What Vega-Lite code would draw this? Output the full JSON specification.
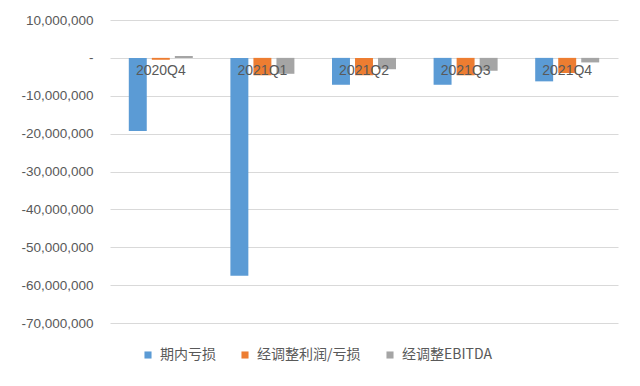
{
  "$schema": "https://vega.github.io/schema/vega-lite/v6.json",
  "autosize": {"type": "none"},
  "padding": {"left": 110, "top": 20, "right": 22, "bottom": 63},
  "width": 508,
  "height": 303,
  "background": "white",
  "config": {
    "view": {"stroke": null},
    "font": "Noto Sans CJK SC",
    "axis": {"labelColor": "#595959", "labelFont": "Liberation Sans"}
  },
  "data": {
    "values": [
      {"quarter": "2020Q4", "series": "期内亏损", "value": -19300000},
      {"quarter": "2020Q4", "series": "经调整利润/亏损", "value": -500000},
      {"quarter": "2020Q4", "series": "经调整EBITDA", "value": 500000},
      {"quarter": "2021Q1", "series": "期内亏损", "value": -57500000},
      {"quarter": "2021Q1", "series": "经调整利润/亏损", "value": -4600000},
      {"quarter": "2021Q1", "series": "经调整EBITDA", "value": -4200000},
      {"quarter": "2021Q2", "series": "期内亏损", "value": -7100000},
      {"quarter": "2021Q2", "series": "经调整利润/亏损", "value": -4600000},
      {"quarter": "2021Q2", "series": "经调整EBITDA", "value": -3000000},
      {"quarter": "2021Q3", "series": "期内亏损", "value": -7100000},
      {"quarter": "2021Q3", "series": "经调整利润/亏损", "value": -4600000},
      {"quarter": "2021Q3", "series": "经调整EBITDA", "value": -3400000},
      {"quarter": "2021Q4", "series": "期内亏损", "value": -6200000},
      {"quarter": "2021Q4", "series": "经调整利润/亏损", "value": -4000000},
      {"quarter": "2021Q4", "series": "经调整EBITDA", "value": -1200000}
    ]
  },
  "mark": {"type": "bar"},
  "encoding": {
    "x": {
      "field": "quarter",
      "type": "nominal",
      "sort": null,
      "scale": {"paddingInner": 0.37, "paddingOuter": 0.185},
      "axis": {
        "title": null,
        "orient": "bottom",
        "offset": -265,
        "domain": false,
        "ticks": false,
        "zindex": 1,
        "labelAngle": 0,
        "labelPadding": 5,
        "labelFontSize": 14,
        "labelColor": "#595959"
      }
    },
    "xOffset": {
      "field": "series",
      "type": "nominal",
      "sort": ["期内亏损", "经调整利润/亏损", "经调整EBITDA"],
      "scale": {"paddingInner": 0.22}
    },
    "y": {
      "field": "value",
      "type": "quantitative",
      "scale": {"domain": [-70000000, 10000000], "nice": false},
      "axis": {
        "title": null,
        "values": [10000000, 0, -10000000, -20000000, -30000000, -40000000, -50000000, -60000000, -70000000],
        "labelExpr": "datum.value === 0 ? '-' : replace(format(datum.value, ','), '−', '-')",
        "domain": false,
        "ticks": false,
        "labelPadding": 17,
        "labelFontSize": 13.5,
        "gridColor": "#d9d9d9",
        "gridWidth": 1
      }
    },
    "color": {
      "field": "series",
      "type": "nominal",
      "sort": ["期内亏损", "经调整利润/亏损", "经调整EBITDA"],
      "scale": {"range": ["#5b9bd5", "#ed7d31", "#a5a5a5"]},
      "legend": {
        "title": null,
        "orient": "none",
        "direction": "horizontal",
        "legendX": 31,
        "legendY": 328,
        "symbolType": "square",
        "symbolSize": 50,
        "symbolStrokeWidth": 0,
        "labelFontSize": 14,
        "labelColor": "#595959",
        "columnPadding": 22,
        "labelOffset": 5
      }
    }
  }
}
